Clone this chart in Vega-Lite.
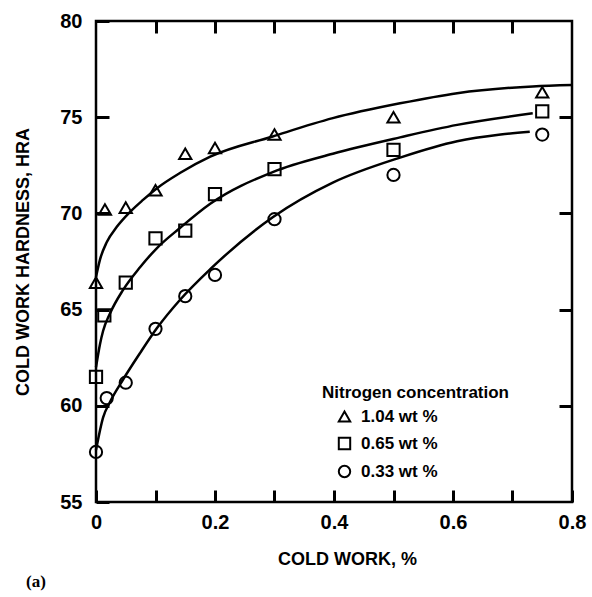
{
  "$schema": "https://vega.github.io/schema/vega-lite/v6.json",
  "width": 476,
  "height": 481,
  "autosize": {"type": "none"},
  "padding": {"left": 96, "top": 21, "right": 20, "bottom": 95},
  "background": "white",
  "title": {
    "text": "(a)",
    "orient": "bottom",
    "anchor": "start",
    "frame": "group",
    "dx": -70,
    "offset": 6,
    "font": "Liberation Serif",
    "fontSize": 17,
    "fontWeight": "bold",
    "color": "black"
  },
  "config": {
    "view": {"stroke": "black", "strokeWidth": 2.5},
    "axis": {"domain": false, "grid": false, "ticks": true, "tickColor": "black", "tickWidth": 3, "tickOpacity": 1, "labelColor": "black", "titleColor": "black"}
  },
  "datasets": {
    "points": [
      {"cw": 0, "hra": 66.4, "N": "1.04 wt %"},
      {"cw": 0.015, "hra": 70.2, "N": "1.04 wt %"},
      {"cw": 0.05, "hra": 70.3, "N": "1.04 wt %"},
      {"cw": 0.1, "hra": 71.2, "N": "1.04 wt %"},
      {"cw": 0.15, "hra": 73.1, "N": "1.04 wt %"},
      {"cw": 0.2, "hra": 73.4, "N": "1.04 wt %"},
      {"cw": 0.3, "hra": 74.1, "N": "1.04 wt %"},
      {"cw": 0.5, "hra": 75.0, "N": "1.04 wt %"},
      {"cw": 0.75, "hra": 76.3, "N": "1.04 wt %"},
      {"cw": 0, "hra": 61.5, "N": "0.65 wt %"},
      {"cw": 0.014, "hra": 64.7, "N": "0.65 wt %"},
      {"cw": 0.05, "hra": 66.4, "N": "0.65 wt %"},
      {"cw": 0.1, "hra": 68.7, "N": "0.65 wt %"},
      {"cw": 0.15, "hra": 69.1, "N": "0.65 wt %"},
      {"cw": 0.2, "hra": 71.0, "N": "0.65 wt %"},
      {"cw": 0.3, "hra": 72.3, "N": "0.65 wt %"},
      {"cw": 0.5, "hra": 73.3, "N": "0.65 wt %"},
      {"cw": 0.75, "hra": 75.3, "N": "0.65 wt %"},
      {"cw": 0, "hra": 57.6, "N": "0.33 wt %"},
      {"cw": 0.018, "hra": 60.4, "N": "0.33 wt %"},
      {"cw": 0.05, "hra": 61.2, "N": "0.33 wt %"},
      {"cw": 0.1, "hra": 64.0, "N": "0.33 wt %"},
      {"cw": 0.15, "hra": 65.7, "N": "0.33 wt %"},
      {"cw": 0.2, "hra": 66.8, "N": "0.33 wt %"},
      {"cw": 0.3, "hra": 69.7, "N": "0.33 wt %"},
      {"cw": 0.5, "hra": 72.0, "N": "0.33 wt %"},
      {"cw": 0.75, "hra": 74.1, "N": "0.33 wt %"}
    ],
    "curves": [
      {"cw": 0, "hra": 66.7, "N": "1.04"},
      {"cw": 0.0067, "hra": 67.6, "N": "1.04"},
      {"cw": 0.018, "hra": 68.5, "N": "1.04"},
      {"cw": 0.035, "hra": 69.3, "N": "1.04"},
      {"cw": 0.057, "hra": 70.07, "N": "1.04"},
      {"cw": 0.079, "hra": 70.7, "N": "1.04"},
      {"cw": 0.102, "hra": 71.3, "N": "1.04"},
      {"cw": 0.141, "hra": 72.1, "N": "1.04"},
      {"cw": 0.192, "hra": 72.95, "N": "1.04"},
      {"cw": 0.297, "hra": 74.0, "N": "1.04"},
      {"cw": 0.398, "hra": 74.95, "N": "1.04"},
      {"cw": 0.511, "hra": 75.72, "N": "1.04"},
      {"cw": 0.607, "hra": 76.25, "N": "1.04"},
      {"cw": 0.734, "hra": 76.6, "N": "1.04"},
      {"cw": 0.8, "hra": 76.67, "N": "1.04"},
      {"cw": 0, "hra": 62.0, "N": "0.65"},
      {"cw": 0.0067, "hra": 63.2, "N": "0.65"},
      {"cw": 0.012, "hra": 63.9, "N": "0.65"},
      {"cw": 0.0235, "hra": 64.8, "N": "0.65"},
      {"cw": 0.045, "hra": 66.0, "N": "0.65"},
      {"cw": 0.074, "hra": 67.2, "N": "0.65"},
      {"cw": 0.1025, "hra": 68.2, "N": "0.65"},
      {"cw": 0.141, "hra": 69.24, "N": "0.65"},
      {"cw": 0.192, "hra": 70.5, "N": "0.65"},
      {"cw": 0.297, "hra": 72.15, "N": "0.65"},
      {"cw": 0.398, "hra": 73.1, "N": "0.65"},
      {"cw": 0.511, "hra": 73.95, "N": "0.65"},
      {"cw": 0.607, "hra": 74.6, "N": "0.65"},
      {"cw": 0.734, "hra": 75.2, "N": "0.65"},
      {"cw": 0, "hra": 57.7, "N": "0.33"},
      {"cw": 0.012, "hra": 59.4, "N": "0.33"},
      {"cw": 0.0235, "hra": 60.2, "N": "0.33"},
      {"cw": 0.045, "hra": 61.34, "N": "0.33"},
      {"cw": 0.074, "hra": 62.74, "N": "0.33"},
      {"cw": 0.1025, "hra": 64.04, "N": "0.33"},
      {"cw": 0.141, "hra": 65.5, "N": "0.33"},
      {"cw": 0.192, "hra": 67.1, "N": "0.33"},
      {"cw": 0.297, "hra": 69.8, "N": "0.33"},
      {"cw": 0.398, "hra": 71.6, "N": "0.33"},
      {"cw": 0.511, "hra": 72.9, "N": "0.33"},
      {"cw": 0.607, "hra": 73.75, "N": "0.33"},
      {"cw": 0.68, "hra": 74.1, "N": "0.33"},
      {"cw": 0.729, "hra": 74.25, "N": "0.33"}
    ]
  },
  "layer": [
    {
      "data": {"name": "curves"},
      "mark": {"type": "line", "color": "black", "strokeWidth": 2.5, "interpolate": "monotone"},
      "encoding": {
        "x": {
          "field": "cw", "type": "quantitative",
          "scale": {"domain": [0, 0.8], "nice": false, "zero": false},
          "axis": {
            "orient": "bottom",
            "offset": -12,
            "values": [0, 0.1, 0.2, 0.3, 0.4, 0.5, 0.6, 0.7, 0.8],
            "labelExpr": "datum.value == 0 ? '0' : (round(datum.value * 10) % 2 == 0 ? format(datum.value, '.1f') : '')",
            "tickSize": 12,
            "labelPadding": 10,
            "labelFont": "Liberation Sans",
            "labelFontSize": 20,
            "labelFontWeight": "bold",
            "labelFlush": false,
            "title": "COLD WORK, %",
            "titleFont": "Liberation Sans",
            "titleFontSize": 18,
            "titleFontWeight": "bold",
            "titlePadding": 18,
            "titleX": 251
          }
        },
        "y": {
          "field": "hra", "type": "quantitative",
          "scale": {"domain": [55, 80], "nice": false, "zero": false},
          "axis": {
            "orient": "left",
            "offset": -13,
            "values": [55, 60, 65, 70, 75, 80],
            "tickSize": 13,
            "labelPadding": 14,
            "labelFont": "Liberation Sans",
            "labelFontSize": 20,
            "labelFontWeight": "bold",
            "labelFlush": false,
            "title": "COLD WORK HARDNESS, HRA",
            "titleFont": "Liberation Sans",
            "titleFontSize": 18,
            "titleFontWeight": "bold",
            "titlePadding": 27
          }
        },
        "detail": {"field": "N", "type": "nominal"}
      }
    },
    {
      "data": {"name": "points"},
      "mark": {"type": "point", "filled": false, "color": "black", "strokeWidth": 2, "size": 150, "opacity": 1},
      "encoding": {
        "x": {
          "field": "cw", "type": "quantitative",
          "axis": {"orient": "top", "offset": -12, "values": [0.1, 0.2, 0.3, 0.4, 0.5, 0.6, 0.7], "labels": false, "tickSize": 12, "title": null}
        },
        "y": {
          "field": "hra", "type": "quantitative",
          "axis": {"orient": "right", "offset": -13, "values": [60, 65, 70, 75], "labels": false, "tickSize": 13, "title": null}
        },
        "shape": {
          "field": "N", "type": "nominal",
          "scale": {"domain": ["1.04 wt %", "0.65 wt %", "0.33 wt %"], "range": ["triangle-up", "square", "circle"]},
          "legend": {
            "orient": "none",
            "legendX": 226,
            "legendY": 364,
            "title": "Nitrogen concentration",
            "titleLimit": 400,
            "titleFont": "Liberation Sans",
            "titleFontSize": 17,
            "titleFontWeight": "bold",
            "titleColor": "black",
            "titlePadding": 6,
            "labelFont": "Liberation Sans",
            "labelFontSize": 17,
            "labelFontWeight": "bold",
            "labelColor": "black",
            "labelOffset": 8,
            "symbolOffset": 14,
            "symbolSize": 130,
            "symbolStrokeWidth": 2,
            "symbolStrokeColor": "black",
            "symbolFillColor": "transparent",
            "rowPadding": 7
          }
        }
      }
    }
  ]
}
